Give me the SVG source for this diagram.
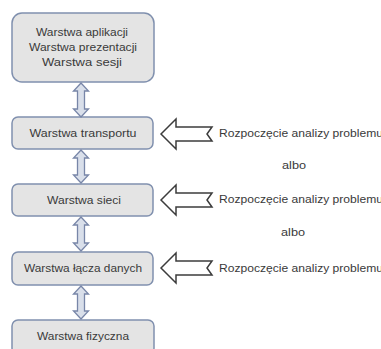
<svg xmlns="http://www.w3.org/2000/svg" width="381" height="349" viewBox="0 0 381 349">
<style>
.box{fill:#e4e4e4;stroke:#8090ae;stroke-width:1.5}
.t{font-family:"Liberation Sans",Arial,sans-serif;font-size:10.5px;fill:#3a3a3a;text-anchor:middle}
.r{font-family:"Liberation Sans",Arial,sans-serif;font-size:10.5px;fill:#3a3a3a}
.da{fill:#d9dfea;stroke:#7886a8;stroke-width:1.3}
.la{fill:#ffffff;stroke:#3c3c3c;stroke-width:1.5;stroke-linejoin:miter}
</style>
<rect width="381" height="349" fill="#ffffff"/>
<g id="n-app">
<rect class="box" x="12" y="13" width="142" height="69" rx="10"/>
<text class="t" x="82" y="36" textLength="92" lengthAdjust="spacingAndGlyphs">Warstwa aplikacji</text>
<text class="t" x="83" y="51" textLength="108" lengthAdjust="spacingAndGlyphs">Warstwa prezentacji</text>
<text class="t" x="82" y="66" textLength="80" lengthAdjust="spacingAndGlyphs">Warstwa sesji</text>
</g>
<g id="n-transport">
<rect class="box" x="12" y="117" width="141" height="32" rx="6"/>
<text class="t" x="83" y="137" textLength="107" lengthAdjust="spacingAndGlyphs">Warstwa transportu</text>
</g>
<g id="n-sieci">
<rect class="box" x="12" y="184" width="141" height="32" rx="6"/>
<text class="t" x="84" y="204" textLength="74" lengthAdjust="spacingAndGlyphs">Warstwa sieci</text>
</g>
<g id="n-lacza">
<rect class="box" x="12" y="252" width="141" height="33" rx="6"/>
<text class="t" x="83" y="272" textLength="118" lengthAdjust="spacingAndGlyphs">Warstwa łącza danych</text>
</g>
<g id="n-fizyczna">
<rect class="box" x="12" y="320" width="142" height="34" rx="6"/>
<text class="t" x="83" y="340" textLength="92" lengthAdjust="spacingAndGlyphs">Warstwa fizyczna</text>
</g>
<g id="connectors">
<path class="da" d="M81,83 L88.5,91 L84.5,91 L84.5,109 L88.5,109 L81,117 L73.5,109 L77.5,109 L77.5,91 L73.5,91 Z"/>
<path class="da" d="M81,150 L88.5,158 L84.5,158 L84.5,175 L88.5,175 L81,183 L73.5,175 L77.5,175 L77.5,158 L73.5,158 Z"/>
<path class="da" d="M81,217 L88.5,225 L84.5,225 L84.5,243 L88.5,243 L81,251 L73.5,243 L77.5,243 L77.5,225 L73.5,225 Z"/>
<path class="da" d="M81,286 L88.5,294 L84.5,294 L84.5,311 L88.5,311 L81,319 L73.5,311 L77.5,311 L77.5,294 L73.5,294 Z"/>
<path class="la" d="M161,134 L176,119 L176,127 L212,127 L207,134 L212,141 L176,141 L176,149 Z"/>
<path class="la" d="M161,200 L176,185 L176,193 L212,193 L207,200 L212,207 L176,207 L176,215 Z"/>
<path class="la" d="M161,268 L176,253 L176,261 L212,261 L207,268 L212,275 L176,275 L176,283 Z"/>
</g>
<g id="labels">
<text class="r" x="219" y="137" textLength="164" lengthAdjust="spacingAndGlyphs">Rozpoczęcie analizy problemu</text>
<text class="t" x="294" y="169" textLength="24" lengthAdjust="spacingAndGlyphs">albo</text>
<text class="r" x="219" y="203" textLength="164" lengthAdjust="spacingAndGlyphs">Rozpoczęcie analizy problemu</text>
<text class="t" x="293" y="236" textLength="24" lengthAdjust="spacingAndGlyphs">albo</text>
<text class="r" x="219" y="272" textLength="164" lengthAdjust="spacingAndGlyphs">Rozpoczęcie analizy problemu</text>
</g>
</svg>
